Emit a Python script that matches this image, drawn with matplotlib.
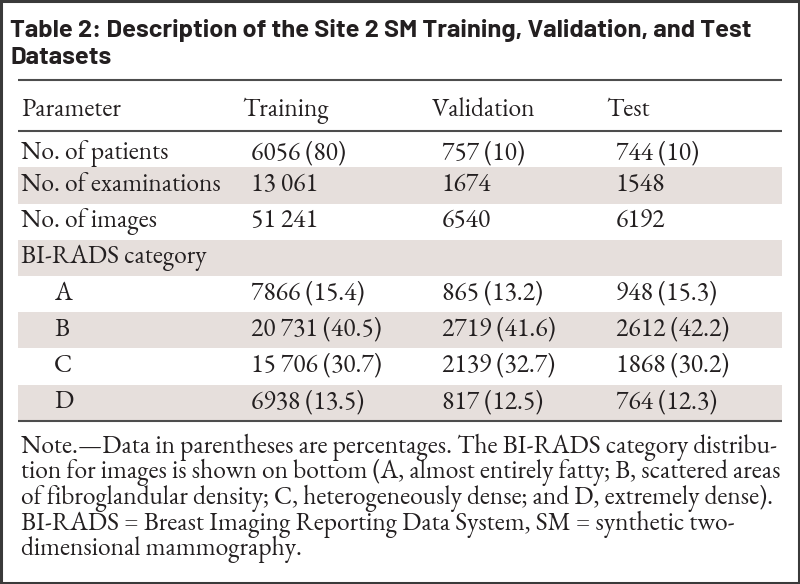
import matplotlib
matplotlib.use("Agg")
import matplotlib.pyplot as plt
from matplotlib import font_manager as fm
from matplotlib.patches import Rectangle

title_lines = ["Table 2: Description of the Site 2 SM Training, Validation, and Test",
               "Datasets"]
columns = ["Parameter", "Training", "Validation", "Test"]
row_labels = ["No. of patients", "No. of examinations", "No. of images",
              "BI-RADS category", "A", "B", "C", "D"]
row_indent = [False, False, False, False, True, True, True, True]
training = ["6056 (80)", "13 061", "51 241", "", "7866 (15.4)",
            "20 731 (40.5)", "15 706 (30.7)", "6938 (13.5)"]
validation = ["757 (10)", "1674", "6540", "", "865 (13.2)", "2719 (41.6)",
              "2139 (32.7)", "817 (12.5)"]
test = ["744 (10)", "1548", "6192", "", "948 (15.3)", "2612 (42.2)",
        "1868 (30.2)", "764 (12.3)"]
note_lines = [
    "Note.\u2014Data in parentheses are percentages. The BI-RADS category distribu-",
    "tion for images is shown on bottom (A, almost entirely fatty; B, scattered areas",
    "of fibroglandular density; C, heterogeneously dense; and D, extremely dense).",
    "BI-RADS = Breast Imaging Reporting Data System, SM = synthetic two-",
    "dimensional mammography.",
]

entries = fm.fontManager.ttflist
available = set(f.name for f in entries)

def weight_num(w):
    if isinstance(w, (int, float)):
        return w
    return fm.weight_dict.get(str(w).lower(), 400)

def pick(cands, need_bold=False):
    for c in cands:
        if c not in available:
            continue
        if need_bold and not any(f.name == c and weight_num(f.weight) >= 700
                                 and f.style == "normal" for f in entries):
            continue
        return c
    return "DejaVu Sans"

serif = pick(["EB Garamond", "Cormorant Garamond", "Liberation Serif", "DejaVu Serif"])
title_font = pick(["Jost", "League Spartan", "Futura", "Barlow", "Kumbh Sans",
                   "Outfit", "Red Hat Display", "Poppins", "Lato"], need_bold=True)

W, H = 800, 584
fig = plt.figure(figsize=(W / 100, H / 100), dpi=100)
ax = fig.add_axes([0, 0, 1, 1])
ax.set_xlim(0, W)
ax.set_ylim(H, 0)
ax.axis("off")
renderer = fig.canvas.get_renderer()

def fit_size(text, family, weight, target_px, base=16.0):
    t = fig.text(0, 0, text, fontsize=base, family=family, fontweight=weight)
    w = t.get_window_extent(renderer).width
    t.remove()
    return base * target_px / w

body_size = fit_size(note_lines[0], serif, "normal", 757)
title_size = fit_size(title_lines[0], title_font, "bold", 740)

text_color = "#231f20"
shade = "#e6dfdc"
rule_color = "#4d4d4d"

# outer border
ax.add_patch(Rectangle((1, 1), W - 2, H - 2, fill=False, edgecolor="#3a3a3a", lw=2.2))

# title
for i, line in enumerate(title_lines):
    ax.text(10, 37.5 + i * 26, line, fontsize=title_size, fontweight="bold",
            family=title_font, color=text_color, va="baseline", ha="left")

x0, x1 = 18, 782
ax.plot([x0, x1], [79.5, 79.5], color=rule_color, lw=1.5, solid_capstyle="butt")
head_x = [21, 242, 432, 606]
val_x = [21, 251, 442, 616]
for cx, c in zip(head_x, columns):
    ax.text(cx, 115.5, c, fontsize=body_size, family=serif, color=text_color,
            va="baseline", ha="left")
ax.plot([x0, x1], [130.7, 130.7], color=rule_color, lw=1.5, solid_capstyle="butt")

row_top = 131.2
row_h = 36.2
for i, lab in enumerate(row_labels):
    top = row_top + i * row_h
    if i % 2 == 1:
        ax.add_patch(Rectangle((x0, top), x1 - x0, row_h, facecolor=shade,
                               edgecolor="none"))
    yb = top + 23.5 + (4.5 if i == 0 else 0)
    ax.text(54 if row_indent[i] else val_x[0], yb, lab, fontsize=body_size,
            family=serif, color=text_color, va="baseline", ha="left")
    for cx, v in zip(val_x[1:], (training[i], validation[i], test[i])):
        ax.text(cx, yb, v, fontsize=body_size, family=serif, color=text_color,
                va="baseline", ha="left")

bottom = row_top + len(row_labels) * row_h
ax.plot([x0, x1], [bottom, bottom], color=rule_color, lw=1.5, solid_capstyle="butt")

for i, line in enumerate(note_lines):
    ax.text(21, 453 + i * 25.5, line, fontsize=body_size, family=serif,
            color=text_color, va="baseline", ha="left")

fig.savefig("out.png", dpi=100)
